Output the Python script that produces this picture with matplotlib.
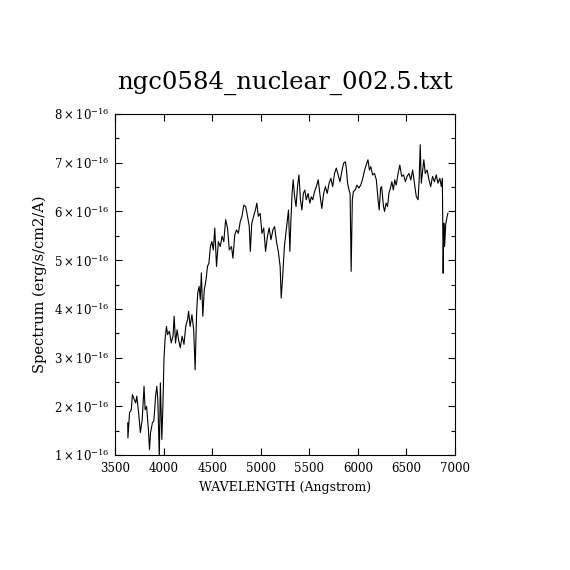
import matplotlib
matplotlib.use("Agg")
import matplotlib.pyplot as plt
from matplotlib.ticker import MultipleLocator, FuncFormatter

# Wavelength (Angstrom) and flux (units of 1e-16 erg/s/cm2/A)
wavelength = [3631, 3633, 3650, 3668, 3679, 3698, 3713, 3724, 3743, 3761, 3780, 3799, 3810, 3825,
              3844, 3855, 3866, 3885, 3900, 3918, 3930, 3941, 3956, 3967, 3982, 3993, 4004, 4015,
              4030, 4041, 4060, 4079, 4097, 4109, 4123, 4139, 4154, 4172, 4191, 4210, 4228, 4247,
              4258, 4273, 4292, 4310, 4325, 4340, 4352, 4366, 4378, 4389, 4404, 4419, 4437, 4452,
              4467, 4482, 4497, 4512, 4527, 4545, 4564, 4584, 4602, 4620, 4639, 4658, 4677, 4699,
              4714, 4733, 4751, 4770, 4789, 4807, 4826, 4845, 4864, 4882, 4893, 4908, 4927, 4945,
              4960, 4975, 4994, 5013, 5031, 5050, 5069, 5087, 5106, 5125, 5143, 5162, 5181, 5200,
              5211, 5226, 5244, 5259, 5274, 5286, 5300, 5311, 5323, 5334, 5349, 5364, 5379, 5394,
              5409, 5424, 5439, 5454, 5469, 5487, 5506, 5521, 5536, 5554, 5573, 5592, 5610, 5629,
              5648, 5666, 5685, 5704, 5722, 5741, 5760, 5778, 5797, 5816, 5835, 5853, 5872, 5883,
              5894, 5909, 5920, 5931, 5943, 5954, 5973, 5991, 6010, 6029, 6047, 6066, 6085, 6104,
              6119, 6133, 6152, 6171, 6190, 6208, 6220, 6234, 6245, 6264, 6275, 6290, 6305, 6320,
              6335, 6350, 6365, 6380, 6395, 6414, 6432, 6451, 6470, 6489, 6507, 6526, 6545, 6564,
              6582, 6601, 6620, 6631, 6642, 6653, 6664, 6679, 6694, 6713, 6732, 6750, 6769, 6788,
              6807, 6825, 6844, 6859, 6870, 6878, 6885, 6893, 6904, 6919, 6927]
flux = [1.66, 1.35, 1.87, 1.93, 2.24, 2.14, 2.07, 2.21, 1.87, 1.46, 1.73, 2.41, 1.93, 2.00,
        1.52, 1.11, 1.46, 1.66, 1.70, 2.21, 2.41, 2.14, 0.95, 2.48, 1.32, 2.00, 2.96, 3.37,
        3.64, 3.47, 3.54, 3.30, 3.44, 3.85, 3.30, 3.57, 3.37, 3.20, 3.44, 3.27, 3.64, 3.78,
        3.95, 3.64, 3.88, 3.57, 2.75, 3.92, 4.33, 4.46, 4.19, 4.74, 3.85, 4.39, 4.60, 4.87,
        4.94, 5.28, 5.38, 5.21, 5.66, 4.87, 5.38, 5.28, 5.49, 5.38, 5.83, 5.66, 5.21, 5.28,
        5.04, 5.52, 5.62, 5.55, 5.79, 5.90, 6.13, 6.10, 5.90, 5.69, 5.18, 5.76, 5.90, 6.03,
        6.17, 5.90, 5.96, 5.55, 5.66, 5.18, 5.49, 5.66, 5.42, 5.62, 5.69, 5.38, 5.18, 4.87,
        4.22, 4.67, 5.28, 5.55, 5.83, 6.03, 5.18, 5.83, 6.37, 6.65, 6.30, 6.10, 6.51, 6.75,
        6.24, 6.03, 6.37, 6.44, 6.24, 6.37, 6.17, 6.30, 6.24, 6.41, 6.51, 6.65, 6.34, 6.06,
        6.37, 6.51, 6.37, 6.58, 6.68, 6.51, 6.78, 6.89, 6.75, 6.61, 6.82, 6.99, 7.02, 6.85,
        6.58, 6.44, 6.37, 4.77, 6.24, 6.41, 6.44, 6.54, 6.48, 6.54, 6.65, 6.82, 6.95, 7.06,
        6.85, 6.92, 6.75, 6.78, 6.65, 6.24, 6.03, 6.48, 6.51, 6.10, 6.00, 6.17, 6.10, 6.37,
        6.48, 6.61, 6.44, 6.65, 6.54, 6.78, 6.95, 6.72, 6.75, 6.61, 6.72, 6.78, 6.65, 6.85,
        6.58, 6.31, 6.24, 6.65, 7.37, 6.58, 6.78, 7.06, 6.78, 6.85, 6.65, 6.51, 6.72, 6.61,
        6.75, 6.58, 6.68, 6.51, 6.68, 4.73, 5.76, 5.28, 5.73, 5.90, 5.96]

title = "ngc0584_nuclear_002.5.txt"
xlabel = "WAVELENGTH (Angstrom)"
ylabel = "Spectrum (erg/s/cm2/A)"

plt.rcParams['font.family'] = ['DejaVu Serif']
plt.rcParams['mathtext.fontset'] = 'dejavuserif'

fig = plt.figure(figsize=(5.7, 5.7), dpi=100)
ax = fig.add_axes([115/570, 115/570, 340/570, 341/570])

ax.plot(wavelength, [f * 1e-16 for f in flux], color='black', linewidth=0.8)

ax.set_xlim(3500, 7000)
ax.set_ylim(1e-16, 8e-16)
ax.xaxis.set_major_locator(MultipleLocator(500))
ax.yaxis.set_major_locator(MultipleLocator(1e-16))
ax.yaxis.set_minor_locator(MultipleLocator(0.5e-16))
ax.yaxis.set_major_formatter(FuncFormatter(lambda v, p: r"$%d\times10^{-16}$" % round(v / 1e-16)))

ax.tick_params(which='both', direction='in', top=True, right=True, labelsize=8.5, color='black')
ax.tick_params(which='major', length=5, width=0.8)
ax.tick_params(which='minor', length=3, width=0.8)
ax.tick_params(axis='x', which='major', pad=5)
for s in ax.spines.values():
    s.set_linewidth(0.8)

ax.set_title(title, fontsize=17.6, pad=18)
ax.set_xlabel(xlabel, fontsize=9, labelpad=4)
ax.set_ylabel(ylabel, fontsize=10.5, labelpad=5)

fig.savefig("out.png", dpi=100, facecolor='white')
